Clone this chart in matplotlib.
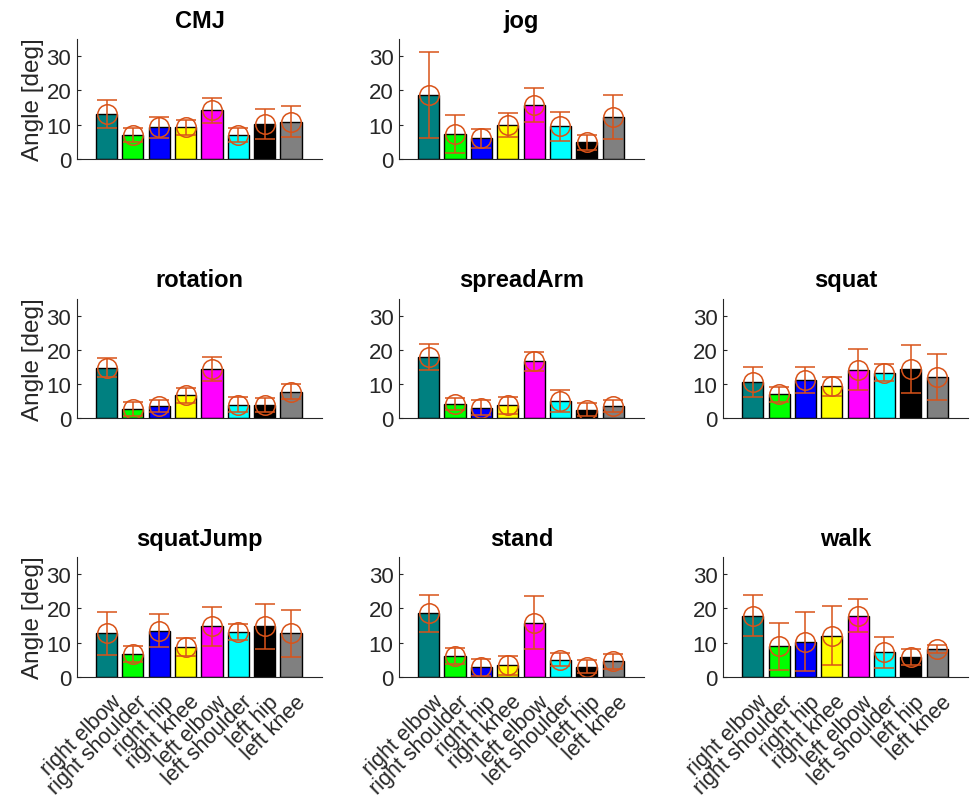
import numpy as np
import matplotlib.pyplot as plt
from matplotlib.transforms import ScaledTranslation

plt.rcParams['font.family'] = ['Liberation Sans', 'DejaVu Sans']

joints = ["right elbow", "right shoulder", "right hip", "right knee",
          "left elbow", "left shoulder", "left hip", "left knee"]
bar_colors = ["#008080", "#00ff00", "#0000ff", "#ffff00",
              "#ff00ff", "#00ffff", "#000000", "#808080"]

# mean angle per joint and its standard deviation, per movement
cmj_mean = [13.1, 7.0, 9.2, 9.2, 14.2, 7.0, 10.2, 10.9]
cmj_sd = [4.0, 2.0, 3.0, 2.2, 3.7, 2.0, 4.5, 4.6]
jog_mean = [18.7, 7.2, 6.0, 9.8, 15.7, 9.5, 4.9, 12.3]
jog_sd = [12.6, 5.6, 2.7, 3.5, 5.0, 4.2, 2.2, 6.5]
rotation_mean = [14.8, 2.7, 3.5, 6.7, 14.5, 3.9, 3.8, 7.8]
rotation_sd = [2.7, 2.0, 1.7, 2.2, 3.5, 2.2, 2.0, 2.2]
spreadarm_mean = [17.9, 4.2, 3.0, 3.8, 16.7, 5.0, 2.5, 3.5]
spreadarm_sd = [3.7, 1.7, 2.2, 2.5, 2.8, 3.2, 2.0, 1.8]
squat_mean = [10.5, 7.0, 11.2, 9.3, 14.1, 13.3, 14.5, 12.1]
squat_sd = [4.4, 2.2, 3.9, 2.8, 6.0, 2.4, 7.0, 6.7]
squatjump_mean = [12.7, 6.7, 13.5, 8.8, 14.7, 13.1, 14.7, 12.7]
squatjump_sd = [6.3, 2.4, 4.8, 2.6, 5.6, 2.3, 6.5, 6.8]
stand_mean = [18.5, 6.0, 2.8, 3.3, 15.8, 4.9, 2.9, 4.5]
stand_sd = [5.3, 2.4, 2.5, 2.7, 7.7, 1.9, 1.9, 2.2]
walk_mean = [17.8, 8.9, 10.3, 12.0, 17.8, 7.2, 5.7, 8.0]
walk_sd = [6.0, 6.8, 8.5, 8.6, 4.8, 4.5, 2.4, 1.2]

panels = [
    ("CMJ", cmj_mean, cmj_sd, 0, 0),
    ("jog", jog_mean, jog_sd, 0, 1),
    ("rotation", rotation_mean, rotation_sd, 1, 0),
    ("spreadArm", spreadarm_mean, spreadarm_sd, 1, 1),
    ("squat", squat_mean, squat_sd, 1, 2),
    ("squatJump", squatjump_mean, squatjump_sd, 2, 0),
    ("stand", stand_mean, stand_sd, 2, 1),
    ("walk", walk_mean, walk_sd, 2, 2),
]

col_left = [0.079, 0.410, 0.743]
row_bottom = [0.801, 0.478, 0.156]
ax_w, ax_h = 0.252, 0.149

err_color = "#d95319"
text_color = "#262626"

fig = plt.figure(figsize=(9.73, 8.03), dpi=100)
x = np.arange(len(joints))
label_shift = ScaledTranslation(11 / 100, -5 / 100, fig.dpi_scale_trans)

for title, mean, sd, row, col in panels:
    ax = fig.add_axes([col_left[col], row_bottom[row], ax_w, ax_h])
    ax.bar(x, mean, width=0.8, color=bar_colors, edgecolor="black", linewidth=1)
    ax.errorbar(x, mean, yerr=sd, fmt="o", color=err_color, mfc="none",
                markersize=14, capsize=7.5, elinewidth=1.1, capthick=1.1,
                markeredgewidth=1.1)
    ax.set_xlim(-1.13, 8.18)
    ax.set_ylim(0, 35)
    ax.set_yticks([0, 10, 20, 30])
    ax.set_title(title, fontsize=17, fontweight="bold", pad=9)
    ax.spines["top"].set_visible(False)
    ax.spines["right"].set_visible(False)
    for s in ("left", "bottom"):
        ax.spines[s].set_color(text_color)
    ax.tick_params(axis="y", direction="in", length=3, labelsize=16,
                   colors=text_color, pad=4)
    ax.set_xticks(x)
    if row == 2:
        ax.set_xticklabels(joints, rotation=45, ha="right", va="center",
                           rotation_mode="anchor", fontsize=15.5, color=text_color)
        ax.tick_params(axis="x", direction="in", length=0, pad=12)
        for lab in ax.get_xticklabels():
            lab.set_transform(lab.get_transform() + label_shift)
    else:
        ax.set_xticklabels([])
        ax.tick_params(axis="x", length=0)
    if col == 0:
        ax.set_ylabel("Angle [deg]", fontsize=17.5, color=text_color, labelpad=2)

fig.savefig("out.png", dpi=100)
